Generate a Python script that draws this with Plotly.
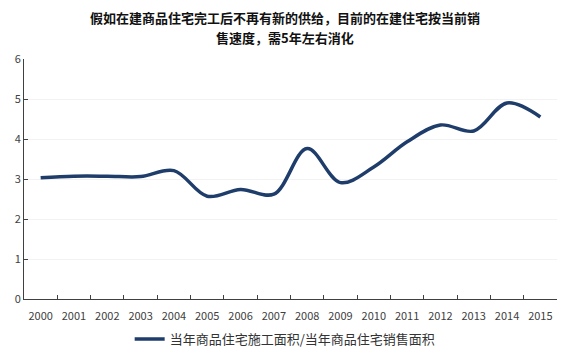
import plotly.graph_objects as go

years = [str(y) for y in range(2000, 2016)]
ratio = [3.03, 3.07, 3.07, 3.06, 3.21, 2.57, 2.74, 2.62, 3.76, 2.91, 3.30, 3.93, 4.35, 4.20, 4.90, 4.55]
series_name = "当年商品住宅施工面积/当年商品住宅销售面积"
title_lines = ["假如在建商品住宅完工后不再有新的供给，目前的在建住宅按当前销", "售速度，需5年左右消化"]

fig = go.Figure()
fig.add_trace(go.Scatter(
    x=years, y=ratio, mode="lines", name=series_name,
    line=dict(color="#1F3D6B", width=3.5, shape="spline", smoothing=1.0),
))

font_family = "Noto Sans CJK SC, Microsoft YaHei, sans-serif"
title_font = dict(family=font_family, size=13, color="#111111", weight="bold")
fig.update_layout(
    width=582, height=354,
    margin=dict(l=24, r=25, t=59, b=55, autoexpand=False),
    paper_bgcolor="white", plot_bgcolor="white",
    font=dict(family=font_family, size=10.5, color="#404040"),
    showlegend=True,
    legend=dict(orientation="h", x=0.49, xanchor="center", yref="container", y=0.0, yanchor="bottom",
                font=dict(size=13, color="#333333")),
    xaxis=dict(type="category", range=[-0.5, 15.5], tickson="boundaries", ticks="inside", ticklen=4,
               tickcolor="#404040", showline=True, linecolor="#404040", linewidth=1,
               showgrid=False, tickangle=0, ticklabelstandoff=7, tickfont=dict(size=11)),
    yaxis=dict(range=[0, 6], dtick=1, ticks="inside", ticklen=4, tickcolor="#404040",
               showline=True, linecolor="#404040", linewidth=1,
               showgrid=True, gridcolor="#F2F2F2", gridwidth=1, zeroline=False,
               tickfont=dict(size=11)),
    annotations=[
        dict(text=title_lines[0], xref="paper", yref="paper", x=0.49, xanchor="center",
             y=1.0, yshift=42, yanchor="middle", showarrow=False, font=title_font),
        dict(text=title_lines[1], xref="paper", yref="paper", x=0.49, xanchor="center",
             y=1.0, yshift=22, yanchor="middle", showarrow=False, font=title_font),
    ],
)

fig.write_html("out.html")
